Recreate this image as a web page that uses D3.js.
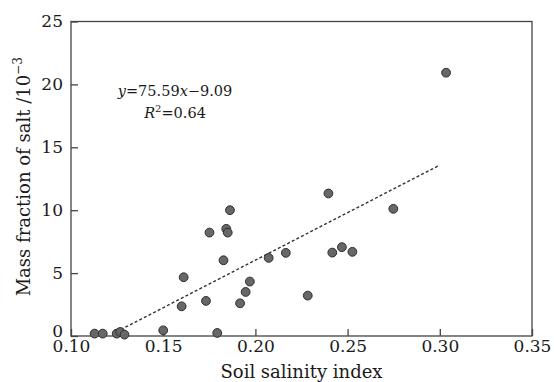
<!DOCTYPE html>
<html><head><meta charset="utf-8">
<script src="https://cdn.jsdelivr.net/npm/d3@7"></script>
<style>
body{margin:0;background:#fff;}
text{font-family:"DejaVu Serif",serif;fill:#1a1a1a;}
</style></head>
<body><svg id="c" width="554" height="382"></svg>
<script>
const salinityIndex = [0.1128,0.1172,0.1248,0.1267,0.1290,0.1500,0.1793,0.1600,0.1611,0.1732,0.1751,0.1827,0.1842,0.1850,0.1862,0.1917,0.1947,0.1970,0.2072,0.2165,0.2284,0.2396,0.2417,0.2469,0.2526,0.2748,0.3034];
const saltFraction  = [0.19,0.19,0.19,0.32,0.11,0.45,0.24,2.36,4.67,2.79,8.22,6.02,8.52,8.22,10.0,2.60,3.50,4.33,6.21,6.61,3.21,11.33,6.63,7.06,6.69,10.11,20.93];
const fitSlope = 75.59, fitIntercept = -9.09;
const fitRange = [0.127, 0.300];
const xTicks = [0.10,0.15,0.20,0.25,0.30,0.35];
const yTicks = [0,5,10,15,20,25];

const svg = d3.select("#c");
const m = {l:71, r:22, t:21.5, b:46};
const W = 554, H = 382;
const x = d3.scaleLinear().domain([0.10,0.35]).range([m.l, W-m.r]);
const y = d3.scaleLinear().domain([0,25]).range([H-m.b, m.t]);

const axCol = "#444";
svg.append("rect").attr("x",x(0.10)).attr("y",y(25)).attr("width",x(0.35)-x(0.10)).attr("height",y(0)-y(25))
  .attr("fill","none").attr("stroke",axCol).attr("stroke-width",1.3);

const xa = svg.append("g").attr("transform",`translate(0,${y(0)})`)
  .call(d3.axisBottom(x).tickValues(xTicks).tickFormat(d3.format(".2f")).tickSizeInner(-7).tickSizeOuter(0).tickPadding(4));
xa.select(".domain").remove();
xa.selectAll("line").attr("stroke",axCol).attr("stroke-width",1.3);
xa.selectAll("text").attr("font-size",17).attr("font-family","DejaVu Serif").attr("fill","#1a1a1a").attr("dy","0.72em");

const ya = svg.append("g").attr("transform",`translate(${x(0.10)},0)`)
  .call(d3.axisLeft(y).tickValues(yTicks).tickSizeInner(-7).tickSizeOuter(0).tickPadding(8));
ya.select(".domain").remove();
ya.selectAll("line").attr("stroke",axCol).attr("stroke-width",1.3);
ya.selectAll("text").attr("font-size",17).attr("font-family","DejaVu Serif").attr("fill","#1a1a1a");
ya.selectAll(".tick").filter(d=>d===0).select("text").attr("dy","0.05em");

svg.append("line")
  .attr("x1",x(fitRange[0])).attr("y1",y(fitSlope*fitRange[0]+fitIntercept))
  .attr("x2",x(fitRange[1])).attr("y2",y(fitSlope*fitRange[1]+fitIntercept))
  .attr("stroke","#333").attr("stroke-width",1.4).attr("stroke-dasharray","3,2.2");

svg.append("g").selectAll("circle").data(salinityIndex.map((d,i)=>[d,saltFraction[i]])).join("circle")
  .attr("cx",d=>x(d[0])).attr("cy",d=>y(d[1])).attr("r",4.4)
  .attr("fill","#676767").attr("stroke","#2e2e2e").attr("stroke-width",1);

const eq = svg.append("text").attr("x",175).attr("y",96).attr("text-anchor","middle").attr("font-size",14.5);
eq.append("tspan").attr("font-style","italic").text("y");
eq.append("tspan").text("=75.59");
eq.append("tspan").attr("font-style","italic").text("x");
eq.append("tspan").text("\u22129.09");
const r2 = svg.append("text").attr("x",175).attr("y",118).attr("text-anchor","middle").attr("font-size",14.5);
r2.append("tspan").attr("font-style","italic").text("R");
r2.append("tspan").attr("font-size",10).attr("dy",-6).text("2");
r2.append("tspan").attr("dy",6).text("=0.64");

svg.append("text").attr("x",(x(0.10)+x(0.35))/2).attr("y",378).attr("text-anchor","middle").attr("font-size",18).text("Soil salinity index");
const yt = svg.append("text").attr("transform",`translate(30,${(y(0)+y(25))/2 - 2}) rotate(-90)`).attr("text-anchor","middle").attr("font-size",18);
yt.append("tspan").text("Mass fraction of salt /10");
yt.append("tspan").attr("font-size",12).attr("dy",-8).text("\u22123");
</script></body></html>
